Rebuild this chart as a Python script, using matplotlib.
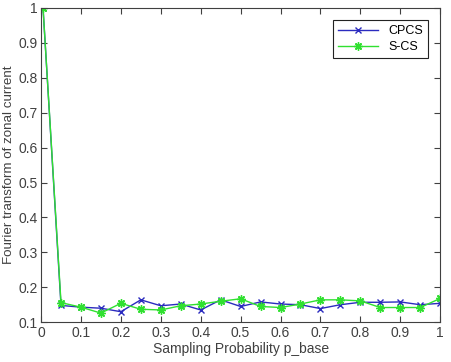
import matplotlib
matplotlib.use("Agg")
import matplotlib.pyplot as plt

plt.rcParams["font.family"] = ["Liberation Sans", "DejaVu Sans"]

# sampling probabilities
p_base = [0.005, 0.05, 0.1, 0.15, 0.2, 0.25, 0.3, 0.35, 0.4, 0.45, 0.5,
          0.55, 0.6, 0.65, 0.7, 0.75, 0.8, 0.85, 0.9, 0.95, 1.0]
cpcs = [1.0, 0.148, 0.143, 0.140, 0.130, 0.164, 0.147, 0.152, 0.135, 0.164, 0.145,
        0.158, 0.152, 0.150, 0.139, 0.150, 0.157, 0.157, 0.158, 0.150, 0.154]
scs = [1.0, 0.156, 0.143, 0.126, 0.154, 0.137, 0.135, 0.147, 0.152, 0.160, 0.167,
       0.145, 0.142, 0.152, 0.164, 0.164, 0.161, 0.142, 0.142, 0.142, 0.168]
xticks = [0, 0.1, 0.2, 0.3, 0.4, 0.5, 0.6, 0.7, 0.8, 0.9, 1]
xtick_labels = ["0", "0.1", "0.2", "0.3", "0.4", "0.5", "0.6", "0.7", "0.8", "0.9", "1"]
yticks = [0.1, 0.2, 0.3, 0.4, 0.5, 0.6, 0.7, 0.8, 0.9, 1]
ytick_labels = ["0.1", "0.2", "0.3", "0.4", "0.5", "0.6", "0.7", "0.8", "0.9", "1"]

fig = plt.figure(figsize=(4.51, 3.62), dpi=100)
ax = fig.add_axes([0.091, 0.110, 0.885, 0.868])

ax.plot(p_base, cpcs, "-x", color="#2b2bbf", lw=1.0, ms=5, mew=1.0, label="CPCS")
ax.plot(p_base, scs, "-", marker=(8, 2, 0), color="#30e030", lw=1.0, ms=6, mew=1.0,
        label="S-CS")

ax.set_xlim(0, 1)
ax.set_ylim(0.1, 1)
ax.set_xticks(xticks)
ax.set_xticklabels(xtick_labels)
ax.set_yticks(yticks)
ax.set_yticklabels(ytick_labels)
ax.tick_params(direction="in", top=True, right=True, length=4, width=0.8,
               labelsize=10, colors="#404040", labelcolor="#404040", pad=2.5)
for s in ax.spines.values():
    s.set_color("#404040")
    s.set_linewidth(0.8)

ax.set_xlabel("Sampling Probability p_base", fontsize=10, color="#404040", labelpad=2)
ax.set_ylabel("Fourier transform of zonal current", fontsize=9.6, color="#404040", labelpad=2)

leg = ax.legend(loc="upper right", fontsize=9, fancybox=False, framealpha=1,
                edgecolor="#222222", handlelength=3.2, borderaxespad=1.0,
                labelspacing=0.3, borderpad=0.4)
leg.get_frame().set_linewidth(0.8)

fig.savefig("out.png", dpi=100)
